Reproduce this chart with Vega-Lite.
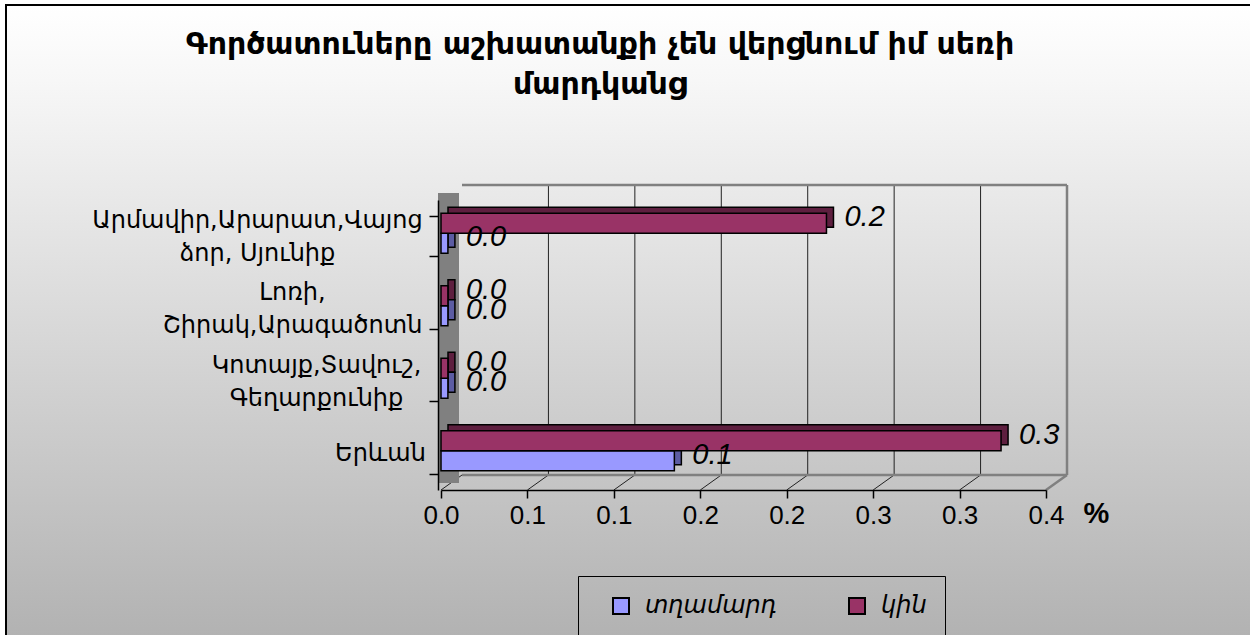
{
  "$schema": "https://vega.github.io/schema/vega-lite/v6.json",
  "width": 1246,
  "height": 632,
  "autosize": {"type": "none"},
  "padding": {"left": 6, "top": 5, "right": 0, "bottom": 0},
  "background": "#ffffff",
  "view": {
    "fill": {"gradient": "linear", "x1": 0, "y1": 0, "x2": 0, "y2": 1,
      "stops": [{"offset": 0, "color": "#ffffff"}, {"offset": 0.12, "color": "#f7f7f7"}, {"offset": 1, "color": "#b2b2b2"}]},
    "stroke": "#000000",
    "strokeWidth": 2
  },
  "datasets": {
    "bars": [
      {"r": "Արմավիր,Արարատ,Վայոց ձոր, Սյունիք", "g": "տղամարդ", "v": 0.004},
      {"r": "Արմավիր,Արարատ,Վայոց ձոր, Սյունիք", "g": "կին", "v": 0.223},
      {"r": "Լոռի, Շիրակ,Արագածոտն", "g": "տղամարդ", "v": 0.004},
      {"r": "Լոռի, Շիրակ,Արագածոտն", "g": "կին", "v": 0.004},
      {"r": "Կոտայք,Տավուշ, Գեղարքունիք", "g": "տղամարդ", "v": 0.004},
      {"r": "Կոտայք,Տավուշ, Գեղարքունիք", "g": "կին", "v": 0.004},
      {"r": "Երևան", "g": "տղամարդ", "v": 0.135},
      {"r": "Երևան", "g": "կին", "v": 0.324}
    ],
    "ticks": [{"t": 0}, {"t": 0.05}, {"t": 0.1}, {"t": 0.15}, {"t": 0.2}, {"t": 0.25}, {"t": 0.3}, {"t": 0.35}]
  },
  "title": {
    "text": ["Գործատուները աշխատանքի չեն վերցնում իմ սեռի", "մարդկանց"],
    "anchor": "middle",
    "frame": "group",
    "offset": -131,
    "baseline": "alphabetic",
    "dx": -29,
    "font": "DejaVu Sans",
    "fontSize": 30,
    "fontWeight": "bold",
    "color": "#000000",
    "lineHeight": 40
  },
  "resolve": {"scale": {"y": "independent"}},
  "layer": [
    {
      "data": {"name": "ticks"},
      "layer": [
        {
          "transform": [{"filter": "datum.t > 0 && datum.t < 0.34"}],
          "mark": {"type": "rule", "xOffset": 21, "color": "#222222", "strokeWidth": 1},
          "encoding": {
            "x": {"field": "t", "type": "quantitative", "scale": {"domain": [0, 0.35], "range": [435, 1040]}},
            "y": {"datum": 0, "type": "quantitative", "scale": {"domain": [0, 1], "range": [470, 180]}, "axis": null},
            "y2": {"datum": 1}
          }
        },
        {
          "transform": [{"filter": "datum.t < 0.34"}],
          "mark": {"type": "rule", "yOffset": 15, "x2Offset": 21, "color": "#222222", "strokeWidth": 1},
          "encoding": {
            "x": {"field": "t", "type": "quantitative"},
            "x2": {"field": "t"},
            "y": {"datum": 0, "type": "quantitative"},
            "y2": {"datum": 0}
          }
        },
        {
          "transform": [{"filter": "datum.t > 0.34"}],
          "mark": {"type": "rule", "yOffset": 15, "x2Offset": 21, "color": "#808080", "strokeWidth": 2.5},
          "encoding": {
            "x": {"field": "t", "type": "quantitative"},
            "x2": {"field": "t"},
            "y": {"datum": 0, "type": "quantitative"},
            "y2": {"datum": 0}
          }
        },
        {
          "transform": [{"filter": "datum.t > 0.34"}],
          "mark": {"type": "rule", "xOffset": 21, "color": "#808080", "strokeWidth": 2.5},
          "encoding": {
            "x": {"field": "t", "type": "quantitative"},
            "y": {"datum": 0, "type": "quantitative"},
            "y2": {"datum": 1}
          }
        },
        {
          "transform": [{"filter": "datum.t > 0.34"}],
          "mark": {"type": "rule", "xOffset": 21, "x2Offset": 21, "color": "#808080", "strokeWidth": 2.5},
          "encoding": {
            "x": {"field": "t", "type": "quantitative"},
            "x2": {"datum": 0},
            "y": {"datum": 1, "type": "quantitative"},
            "y2": {"datum": 1}
          }
        },
        {
          "transform": [{"filter": "datum.t > 0.34"}],
          "mark": {"type": "rule", "xOffset": 21, "x2Offset": 21, "color": "#808080", "strokeWidth": 2.5},
          "encoding": {
            "x": {"field": "t", "type": "quantitative"},
            "x2": {"datum": 0},
            "y": {"datum": 0, "type": "quantitative"},
            "y2": {"datum": 0}
          }
        },
        {
          "transform": [{"filter": "datum.t == 0"}],
          "mark": {"type": "rect", "xOffset": -3, "x2Offset": 18, "yOffset": 8, "y2Offset": 8, "color": "#808080"},
          "encoding": {
            "x": {"field": "t", "type": "quantitative"},
            "x2": {"field": "t"},
            "y": {"datum": 1, "type": "quantitative"},
            "y2": {"datum": 0}
          }
        }
      ]
    },
    {
      "data": {"name": "bars"},
      "encoding": {
        "y": {"field": "r", "type": "nominal",
          "scale": {"domain": ["Արմավիր,Արարատ,Վայոց ձոր, Սյունիք", "Լոռի, Շիրակ,Արագածոտն", "Կոտայք,Տավուշ, Գեղարքունիք", "Երևան"], "range": [195, 485], "paddingInner": 0.45, "paddingOuter": 0.225},
          "axis": {
            "orient": "left", "offset": -432, "title": null, "zindex": 1,
            "domainColor": "#000000", "domainWidth": 1.5, "tickColor": "#000000", "tickSize": 9, "tickWidth": 1.5, "tickBand": "extent", "grid": false,
            "labelFont": "DejaVu Sans", "labelFontSize": 24, "labelColor": "#000000", "labelAlign": "center", "labelBaseline": "middle", "labelLineHeight": 33, "labelLimit": 500,
            "labelExpr": "split(replace(datum.label, ' ', '|'), '|')",
            "labelPadding": {"condition": [
              {"test": "indexof(datum.label, 'Վայոց') >= 0", "value": 172},
              {"test": "indexof(datum.label, 'Լոռի') >= 0", "value": 137},
              {"test": "indexof(datum.label, 'Կոտայք') >= 0", "value": 113}
            ], "value": 49},
            "labelOffset": {"condition": {"test": "datum.label == 'Երևան'", "value": 0}, "value": -16}
          }},
        "x": {"field": "v", "type": "quantitative",
          "axis": {
            "orient": "bottom", "offset": -147, "zindex": 1,
            "values": [0, 0.05, 0.1, 0.15, 0.2, 0.25, 0.3, 0.35],
            "labelExpr": "format((ceil(datum.value * 10 - 0.001) + 0) / 10, '.1f')",
            "labelFlush": false, "labelOverlap": false,
            "labelFont": "Liberation Sans", "labelFontSize": 26, "labelColor": "#000000", "labelPadding": 4,
            "tickSize": 8, "tickColor": "#000000", "tickWidth": 1.5, "domainColor": "#000000", "domainWidth": 1.5, "grid": false,
            "title": "%", "titleX": 1077, "titleY": 32, "titleAlign": "left", "titleBaseline": "alphabetic", "titleAngle": 0,
            "titleFont": "Liberation Sans", "titleFontSize": 29, "titleFontWeight": "bold", "titleColor": "#000000"
          }}
      },
      "layer": [
        {
          "transform": [{"filter": "datum.g == 'կին'"}],
          "mark": {"type": "bar", "height": 20, "xOffset": 7, "x2Offset": 7, "yOffset": -19, "color": "#5e1f3f", "stroke": "#000000", "strokeWidth": 1.5}
        },
        {
          "transform": [{"filter": "datum.g == 'տղամարդ'"}],
          "mark": {"type": "bar", "height": 20, "xOffset": 7, "x2Offset": 7, "yOffset": 1, "color": "#5c5ca3", "stroke": "#000000", "strokeWidth": 1.5}
        },
        {
          "transform": [{"filter": "datum.g == 'տղամարդ'"}],
          "mark": {"type": "bar", "height": 20, "yOffset": 7, "stroke": "#000000", "strokeWidth": 1.5},
          "encoding": {
            "color": {"field": "g", "type": "nominal", "scale": {"domain": ["տղամարդ", "կին"], "range": ["#9999ff", "#993366"]},
              "legend": {
                "title": null, "orient": "none", "legendX": 572, "legendY": 571, "direction": "horizontal",
                "strokeColor": "#000000", "padding": 18, "symbolType": "square", "symbolSize": 256,
                "symbolStrokeColor": "#000000", "symbolStrokeWidth": 2, "symbolOffset": 13,
                "labelFont": "DejaVu Sans", "labelFontStyle": "italic", "labelFontSize": 24, "labelColor": "#000000",
                "labelOffset": 12, "columnPadding": 55
              }}
          }
        },
        {
          "transform": [{"filter": "datum.g == 'կին'"}],
          "mark": {"type": "bar", "height": 20, "yOffset": -13, "stroke": "#000000", "strokeWidth": 1.5},
          "encoding": {
            "color": {"field": "g", "type": "nominal"}
          }
        },
        {
          "transform": [{"filter": "datum.g == 'կին'"}],
          "mark": {"type": "text", "align": "left", "baseline": "middle", "dx": 18, "dy": -19, "font": "Liberation Sans", "fontStyle": "italic", "fontSize": 29, "color": "#000000"},
          "encoding": {"text": {"field": "v", "type": "quantitative", "format": ".1f"}}
        },
        {
          "transform": [{"filter": "datum.g == 'տղամարդ'"}],
          "mark": {"type": "text", "align": "left", "baseline": "middle", "dx": 18, "dy": 1, "font": "Liberation Sans", "fontStyle": "italic", "fontSize": 29, "color": "#000000"},
          "encoding": {"text": {"field": "v", "type": "quantitative", "format": ".1f"}}
        }
      ]
    }
  ]
}
